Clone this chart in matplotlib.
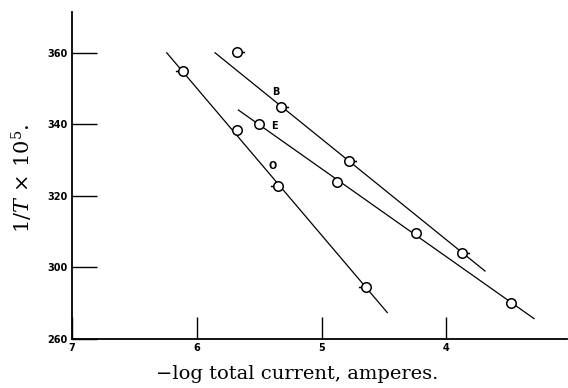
import matplotlib
matplotlib.use('Agg')
from matplotlib import pyplot as plt
from matplotlib.path import Path
import numpy as np

# measured points (x = -log current, y = 1/T x 10^5)
o_x = [6.11, 5.675, 5.347, 4.644]
o_y = [355.0, 338.4, 322.8, 294.5]
o_tail = ['left', 'none', 'left', 'left']

b_x = [5.675, 5.328, 4.781, 3.873]
b_y = [360.1, 344.9, 329.7, 304.1]
b_tail = ['right', 'right', 'right', 'right']

e_x = [5.504, 4.874, 4.244, 3.485]
e_y = [340.1, 323.8, 309.6, 290.2]
e_tail = ['none', 'none', 'none', 'none']

# drawn straight lines (end points)
o_line_x = [6.241, 4.474]
o_line_y = [360.0, 287.4]
b_line_x = [5.854, 3.691]
b_line_y = [360.0, 299.0]
e_line_x = [5.667, 3.298]
e_line_y = [344.0, 285.7]

labels = ['O', 'B', 'E']
label_x = [5.392, 5.365, 5.381]
label_y = [328.3, 348.9, 339.5]

xticks = [7, 6, 5, 4]
yticks = [280, 300, 320, 340, 360]
ytick_labels = ['260', '300', '320', '340', '360']

# circle markers, with or without a little tail
circ = Path.unit_circle()
TAIL = 1.6
def tail_marker(side):
    s = 1.0 if side == 'right' else -1.0
    t = Path([(s * 1.0, 0.0), (s * TAIL, 0.0)], [Path.MOVETO, Path.LINETO])
    return Path.make_compound_path(circ, t)

marker_px = 9.5
plt.rcParams['mathtext.fontset'] = 'dejavuserif'
fig = plt.figure(figsize=(5.68, 3.88), dpi=100)
ax = fig.add_axes([72 / 568, 49 / 388, 495 / 568, 327 / 388])

for lx, ly in [(o_line_x, o_line_y), (b_line_x, b_line_y), (e_line_x, e_line_y)]:
    ax.plot(lx, ly, color='k', lw=0.9, zorder=2)

for xs, ys, tails in [(o_x, o_y, o_tail), (b_x, b_y, b_tail), (e_x, e_y, e_tail)]:
    for x, y, t in zip(xs, ys, tails):
        if t == 'none':
            ax.plot(x, y, 'o', ms=marker_px * 0.72, mfc='white', mec='k', mew=1.1, zorder=3)
        else:
            ax.plot(x, y, marker=tail_marker(t), ms=marker_px * 0.72 * TAIL,
                    mfc='white', mec='k', mew=1.1, zorder=3)

for lab, x, y in zip(labels, label_x, label_y):
    ax.text(x, y, lab, fontsize=7, fontweight='bold', ha='center', va='center')

ax.set_xlim(7, 3.034)
ax.set_ylim(280, 371.4)
ax.spines['top'].set_visible(False)
ax.spines['right'].set_visible(False)
ax.spines['left'].set_linewidth(1.3)
ax.spines['bottom'].set_linewidth(1.3)

ax.set_xticks(xticks)
ax.set_xticklabels([str(v) for v in xticks])
ax.set_yticks(yticks)
ax.set_yticklabels(ytick_labels)
ax.tick_params(axis='y', direction='in', length=18, width=1.0, pad=3,
               labelsize=7)
ax.tick_params(axis='x', direction='in', length=16, width=1.0, pad=3,
               labelsize=7)
for lbl in ax.get_xticklabels() + ax.get_yticklabels():
    lbl.set_fontweight('bold')

fig.text(22 / 568, 1 - 178 / 388, r'$1/T\,\times\,10^5$.', rotation=90,
         fontsize=15, family='DejaVu Serif', ha='center', va='center')
fig.text(297 / 568, 1 - 374 / 388, '\u2212log total current, amperes.',
         fontsize=14, family='DejaVu Serif', ha='center', va='center')

plt.savefig('out.png', dpi=100)
